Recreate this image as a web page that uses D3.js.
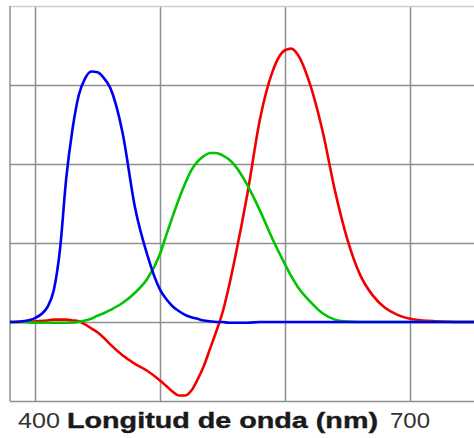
<!DOCTYPE html>
<html>
<head>
<meta charset="utf-8">
<script src="https://cdn.jsdelivr.net/npm/d3@7"></script>
<style>
  html, body { margin: 0; padding: 0; background: #fff; }
  svg { display: block; }
</style>
</head>
<body>
<svg id="chart" width="474" height="438"></svg>
<script>
// Wavelengths (nm)
const wavelengths = [380,390,400,410,415,420,425,430,435,440,445,450,455,460,470,480,490,500,505,510,515,520,525,530,535,540,545,550,555,560,570,580,590,600,605,610,620,630,640,650,660,670,680,690,700,710,720,740,760,780];
// Red colour-matching function
const redValues = [0,0,0.001,0.002,0.003,0.003,0.003,0.002,0.001,-0.003,-0.008,-0.013,-0.020,-0.028,-0.042,-0.053,-0.062,-0.074,-0.081,-0.088,-0.093,-0.093,-0.087,-0.073,-0.056,-0.034,-0.012,0.012,0.044,0.081,0.163,0.257,0.317,0.344,0.346,0.339,0.301,0.242,0.166,0.104,0.060,0.034,0.018,0.009,0.004,0.002,0.001,0,0,0];
// Green colour-matching function
const greenValues = [0,0,-0.001,-0.001,-0.001,-0.001,-0.001,-0.001,0,0.002,0.004,0.008,0.011,0.015,0.024,0.037,0.055,0.086,0.110,0.133,0.155,0.175,0.192,0.203,0.210,0.214,0.214,0.211,0.206,0.198,0.173,0.141,0.105,0.073,0.058,0.045,0.026,0.011,0.003,0.0005,0,0,0,0,0,0,0,0,0,0];
// Blue colour-matching function
const blueValues = [0,0.001,0.005,0.019,0.040,0.092,0.182,0.244,0.287,0.308,0.317,0.316,0.309,0.297,0.240,0.145,0.084,0.041,0.029,0.020,0.014,0.009,0.006,0.004,0.002,0.001,0,0,-0.001,-0.001,-0.001,0,0,0,0,0,0,0,0,0,0,0,0,0,0,0,0,0,0,0];
// Grid values
const xGridTicks = [400,500,600,700];
const yGridTicks = [-0.1,0,0.1,0.2,0.3,0.4];
const xLabelLeft = "400";
const xLabelRight = "700";
const xTitle = "Longitud de onda (nm)";

const svg = d3.select("#chart");
const x = d3.scaleLinear().domain([400,700]).range([35,410]);
const y = d3.scaleLinear().domain([-0.1,0.4]).range([401,6]);
const left = x(380), right = 474;

svg.append("rect").attr("width",474).attr("height",438).attr("fill","#fff");

// Grid via axes
const gx = svg.append("g").attr("transform",`translate(0,${y(-0.1)})`)
  .call(d3.axisBottom(x).tickValues(xGridTicks).tickSize(-(y(-0.1)-y(0.4))).tickFormat(""));
gx.select(".domain").remove();
gx.selectAll("line").attr("stroke","#8f8f8f").attr("stroke-width",1.5);

const gy = svg.append("g").attr("transform",`translate(${left},0)`)
  .call(d3.axisLeft(y).tickValues(yGridTicks).tickSize(-(right-left)).tickFormat(""));
gy.select(".domain").remove();
gy.selectAll("line").attr("stroke","#8f8f8f").attr("stroke-width",1.5);
gy.selectAll(".tick").filter(d => d === 0.4).select("line").attr("stroke","#cfcfcf");

// left border
svg.append("line").attr("x1",left).attr("x2",left).attr("y1",y(0.4)).attr("y2",y(-0.1))
  .attr("stroke","#8f8f8f").attr("stroke-width",1.5);

svg.append("clipPath").attr("id","clip").append("rect")
  .attr("x",left).attr("y",0).attr("width",right-left).attr("height",438);

const line = d3.line().x(d => x(d[0])).y(d => y(d[1])).curve(d3.curveMonotoneX);
const series = [
  {vals: redValues, color: "#f20000"},
  {vals: greenValues, color: "#00c400"},
  {vals: blueValues, color: "#0000f0"}
];
const g = svg.append("g").attr("clip-path","url(#clip)");
series.forEach(s => {
  g.append("path")
    .datum(wavelengths.map((w,i) => [w, s.vals[i]]))
    .attr("d", line)
    .attr("fill","none")
    .attr("stroke", s.color)
    .attr("stroke-width", 2.6)
    .attr("stroke-linejoin","round");
});

// labels
const font = "'Liberation Sans', Arial, sans-serif";
svg.append("text").attr("x", x(400)-17).attr("y",428)
  .attr("font-family",font).attr("font-size",22)
  .attr("fill","#333").attr("textLength",42).attr("lengthAdjust","spacingAndGlyphs")
  .text(xLabelLeft);
svg.append("text").attr("x", 67).attr("y",428)
  .attr("font-family",font).attr("font-size",22)
  .attr("font-weight","bold").attr("stroke","#1a1a1a").attr("stroke-width",0.4)
  .attr("fill","#1a1a1a").attr("textLength",311).attr("lengthAdjust","spacingAndGlyphs")
  .text(xTitle);
svg.append("text").attr("x", x(700)-20).attr("y",428)
  .attr("font-family",font).attr("font-size",22)
  .attr("fill","#333").attr("textLength",40).attr("lengthAdjust","spacingAndGlyphs")
  .text(xLabelRight);
</script>
</body>
</html>
